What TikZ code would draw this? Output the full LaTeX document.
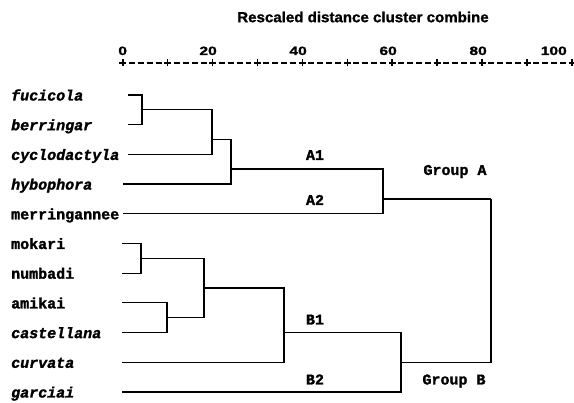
\documentclass[tikz,border=0pt]{standalone}
\usepackage{fontspec}
\setmainfont{Liberation Sans}[BoldFeatures={FakeBold=1.2}]
\newfontfamily\heavymono{Liberation Mono}[UprightFont={* Bold}, ItalicFont={* Bold Italic}, UprightFeatures={FakeBold=1.6}, ItalicFeatures={FakeBold=1.6}]
\begin{document}
\begin{tikzpicture}[x=1pt,y=-1pt,
  leaf/.style={font=\fontsize{15}{15}\selectfont\heavymono, anchor=base west, inner sep=0pt},
  leafit/.style={font=\fontsize{15}{15}\selectfont\heavymono\itshape, anchor=base west, inner sep=0pt},
  grp/.style={font=\fontsize{15}{15}\selectfont\heavymono, anchor=base, inner sep=0pt},
  link/.style={line width=1.2pt},
  num/.style={font=\fontsize{12}{12}\selectfont\bfseries, anchor=base east, inner sep=0pt},
  axisdash/.style={line width=1.3pt, dash pattern=on 6pt off 3pt},
  plusmark/.style={line width=1.6pt}]
\useasboundingbox (0,0) rectangle (574,403);
% title
\node[font=\fontsize{14.5}{14.5}\selectfont\bfseries, inner sep=0pt] (title) at (363,17) {\scalebox{1.04}[1]{Rescaled distance cluster combine}};
% axis
\foreach \i [evaluate=\i as \xx using 122.7+44.93*\i] in {0,...,10} {
  \draw[plusmark] (\xx-3.5,63) -- (\xx+3.5,63) (\xx,59.5) -- (\xx,66.5);
}
\foreach \i [evaluate=\i as \xx using 122.7+44.93*\i] in {0,...,9} {
  \draw[axisdash] (\xx+6,63) -- (\xx+38.9,63);
}
\node[num] (n0) at (127.2,55) {\scalebox{1.3}[1]{0}};
\node[num] (n20) at (217,55) {\scalebox{1.3}[1]{20}};
\node[num] (n40) at (307,55) {\scalebox{1.3}[1]{40}};
\node[num] (n60) at (397,55) {\scalebox{1.3}[1]{60}};
\node[num] (n80) at (487,55) {\scalebox{1.3}[1]{80}};
\node[num] (n100) at (567,55) {\scalebox{1.3}[1]{100}};
% leaves
\node[leafit] (l0) at (11,100.5) {fucicola};
\node[leafit] (l1) at (11,130.2) {berringar};
\node[leafit] (l2) at (11,159.9) {cyclodactyla};
\node[leafit] (l3) at (11,189.6) {hybophora};
\node[leaf] (l4) at (11,219.3) {merringannee};
\node[leaf] (l5) at (11,249) {mokari};
\node[leaf] (l6) at (11,278.7) {numbadi};
\node[leaf] (l7) at (11,308.4) {amikai};
\node[leafit] (l8) at (11,338.1) {castellana};
\node[leafit] (l9) at (11,367.8) {curvata};
\node[leafit] (l10) at (11,397.5) {garciai};
% line starts
\coordinate (s0) at (128,95);
\coordinate (s1) at (128,124.7);
\coordinate (s2) at (128,154.4);
\coordinate (s3) at (123,184.1);
\coordinate (s4) at (123,213.8);
\coordinate (s5) at (122,243.5);
\coordinate (s6) at (122,273.2);
\coordinate (s7) at (122,302.9);
\coordinate (s8) at (122,332.6);
\coordinate (s9) at (122,362.3);
\coordinate (s10) at (122,392);
% joins
\coordinate (J1) at (142,109.8);
\coordinate (J2) at (212,139.5);
\coordinate (J3) at (231,169);
\coordinate (J4) at (383,199);
\coordinate (J5) at (141,258.3);
\coordinate (J6) at (167,317.7);
\coordinate (J7) at (204,288);
\coordinate (J8) at (284,332.6);
\coordinate (J9) at (401,362.3);
\coordinate (J10) at (491,199);
\draw[link] (s0) -| (J1) (s1) -| (J1);
\draw[link] (J1) -| (J2) (s2) -| (J2);
\draw[link] (J2) -| (J3) (s3) -| (J3);
\draw[link] (J3) -| (J4) (s4) -| (J4);
\draw[link] (s5) -| (J5) (s6) -| (J5);
\draw[link] (s7) -| (J6) (s8) -| (J6);
\draw[link] (J5) -| (J7) (J6) -| (J7);
\draw[link] (J7) -| (J8) (s9) -| (J8);
\draw[link] (J8) -| (J9) (s10) -| (J9);
\draw[link] (J4) -| (J10) (J9) -| (J10);
% group labels
\node[grp] (A1) at (315,160) {A1};
\node[grp] (A2) at (315,205) {A2};
\node[grp] (B1) at (315,324.5) {B1};
\node[grp] (B2) at (315,384.5) {B2};
\node[grp] (GA) at (455,175) {Group A};
\node[grp] (GB) at (454,384.5) {Group B};
\end{tikzpicture}
\end{document}
